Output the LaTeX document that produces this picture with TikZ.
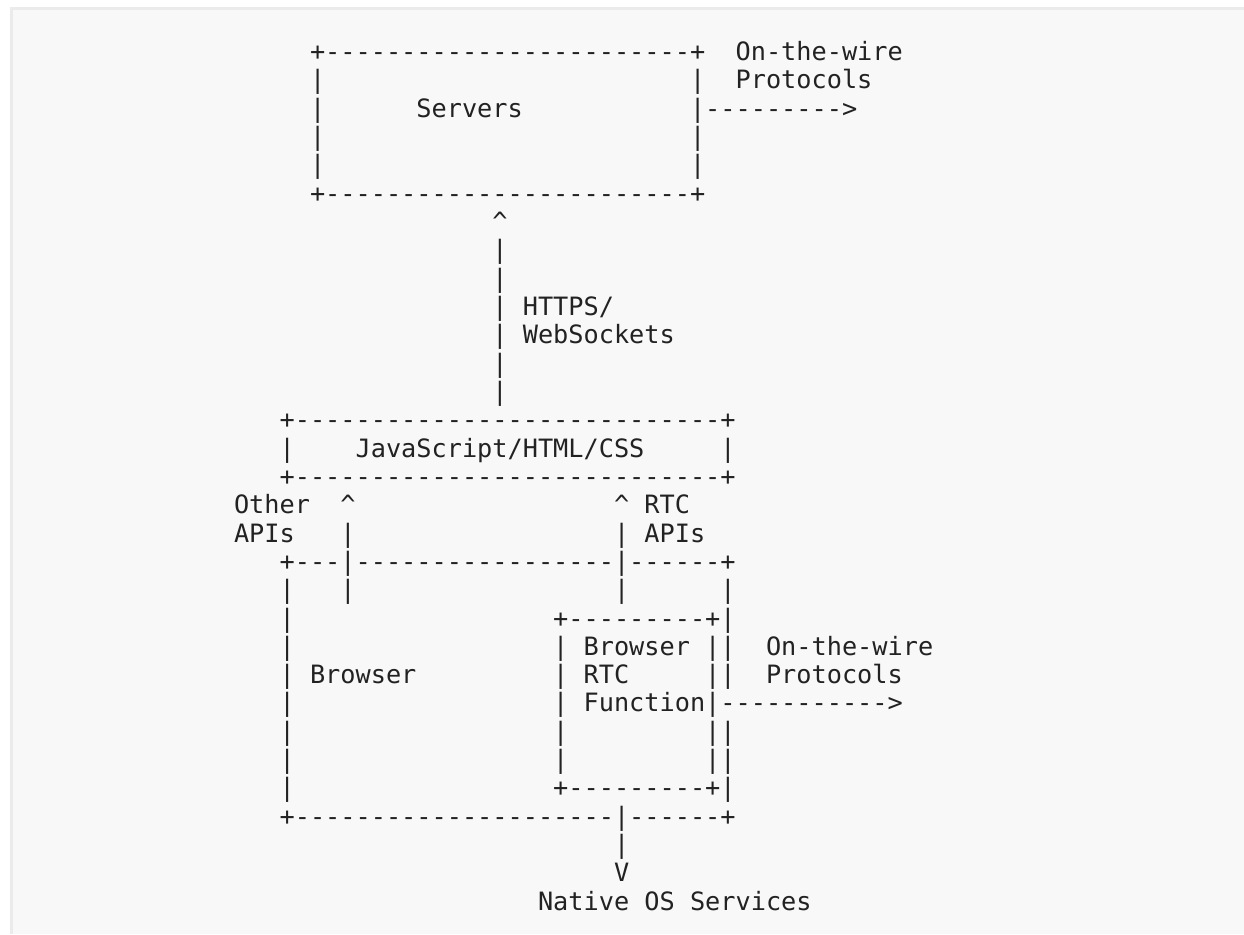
\documentclass[tikz,border=0pt]{standalone}
\usepackage{fontspec}
\setmonofont{DejaVu Sans Mono}
\definecolor{ink}{HTML}{222222}
\definecolor{panel}{HTML}{F8F8F8}
\definecolor{edge}{HTML}{EBEBEB}
\newcommand\asctok[4]{\node[asc] (#1) at ({287.2+(#2)*15.2-7.6},{51.7+((#3)-1)*28.33+8.7}) {#4};}
\begin{document}
\begin{tikzpicture}[x=1pt,y=-1pt,
  asc/.style={anchor=base west, inner sep=0pt, outer sep=0pt, text=ink,
              font=\ttfamily\fontsize{25.25}{28}\selectfont}]
\useasboundingbox (0,0) rectangle (1244,934);
\fill[white] (0,0) rectangle (1244,934);
\fill[panel] (10,7) rectangle (1244,934);
\fill[edge] (10,7) rectangle (1244,10);
\fill[edge] (10,7) rectangle (12.5,934);
% Servers box
\asctok{r1a}{2}{1}{+------------------------+}
\asctok{r1b}{30}{1}{On-the-wire}
\asctok{r2a}{2}{2}{|}
\asctok{r2b}{27}{2}{|}
\asctok{r2c}{30}{2}{Protocols}
\asctok{r3a}{2}{3}{|}
\asctok{r3b}{9}{3}{Servers}
\asctok{r3c}{27}{3}{|--------->}
\asctok{r4a}{2}{4}{|}
\asctok{r4b}{27}{4}{|}
\asctok{r5a}{2}{5}{|}
\asctok{r5b}{27}{5}{|}
\asctok{r6a}{2}{6}{+------------------------+}
% HTTPS link
\asctok{r7a}{14}{7}{\textasciicircum}
\asctok{r8a}{14}{8}{|}
\asctok{r9a}{14}{9}{|}
\asctok{r10a}{14}{10}{|}
\asctok{r10b}{16}{10}{HTTPS/}
\asctok{r11a}{14}{11}{|}
\asctok{r11b}{16}{11}{WebSockets}
\asctok{r12a}{14}{12}{|}
\asctok{r13a}{14}{13}{|}
% JavaScript box
\asctok{r14a}{0}{14}{+----------------------------+}
\asctok{r15a}{0}{15}{|}
\asctok{r15b}{5}{15}{JavaScript/HTML/CSS}
\asctok{r15c}{29}{15}{|}
\asctok{r16a}{0}{16}{+----------------------------+}
% APIs
\asctok{r17a}{-3}{17}{Other}
\asctok{r17b}{4}{17}{\textasciicircum}
\asctok{r17c}{22}{17}{\textasciicircum}
\asctok{r17d}{24}{17}{RTC}
\asctok{r18a}{-3}{18}{APIs}
\asctok{r18b}{4}{18}{|}
\asctok{r18c}{22}{18}{|}
\asctok{r18d}{24}{18}{APIs}
% Browser box
\asctok{r19a}{0}{19}{+---|-----------------|------+}
\asctok{r20a}{0}{20}{|}
\asctok{r20b}{4}{20}{|}
\asctok{r20c}{22}{20}{|}
\asctok{r20d}{29}{20}{|}
\asctok{r21a}{0}{21}{|}
\asctok{r21b}{18}{21}{+---------+|}
\asctok{r22a}{0}{22}{|}
\asctok{r22b}{18}{22}{|}
\asctok{r22c}{20}{22}{Browser}
\asctok{r22d}{28}{22}{||}
\asctok{r22e}{32}{22}{On-the-wire}
\asctok{r23a}{0}{23}{|}
\asctok{r23b}{2}{23}{Browser}
\asctok{r23c}{18}{23}{|}
\asctok{r23d}{20}{23}{RTC}
\asctok{r23e}{28}{23}{||}
\asctok{r23f}{32}{23}{Protocols}
\asctok{r24a}{0}{24}{|}
\asctok{r24b}{18}{24}{|}
\asctok{r24c}{20}{24}{Function|----------->}
\asctok{r25a}{0}{25}{|}
\asctok{r25b}{18}{25}{|}
\asctok{r25c}{28}{25}{||}
\asctok{r26a}{0}{26}{|}
\asctok{r26b}{18}{26}{|}
\asctok{r26c}{28}{26}{||}
\asctok{r27a}{0}{27}{|}
\asctok{r27b}{18}{27}{+---------+|}
\asctok{r28a}{0}{28}{+---------------------|------+}
% Native OS services
\asctok{r29a}{22}{29}{|}
\asctok{r30a}{22}{30}{V}
\asctok{r31a}{17}{31}{Native OS Services}
\end{tikzpicture}
\end{document}
